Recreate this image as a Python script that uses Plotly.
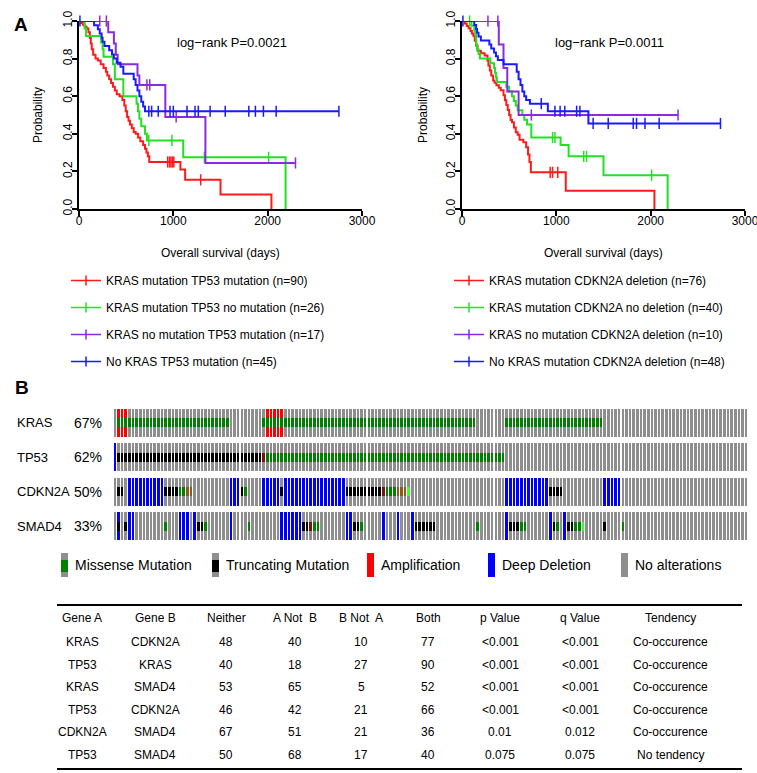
import numpy as np
import plotly.graph_objects as go

W, H = 757, 773
def px(x): return x / W
def py(y): return 1 - y / H

FONT = "Arial, Liberation Sans, sans-serif"
TFONT = "Arial, Liberation Sans, sans-serif"

# ---------------- Kaplan-Meier data ----------------
KM_COLORS = ["#ff1a1a", "#22e022", "#8a2be2", "#1a1aff"]

# Panel 1: KRAS / TP53
tp53_names = ["KRAS mutation TP53 mutation (n=90)", "KRAS mutation TP53 no mutation (n=26)",
              "KRAS no mutation TP53 mutation (n=17)", "No KRAS TP53 mutation (n=45)"]
tp53_red_t = [20, 40, 60, 80, 100, 115, 125, 135, 150, 175, 200, 230, 260, 285, 300, 320, 340, 360, 380, 400,
              430, 460, 480, 495, 510, 525, 540, 560, 580, 600, 625, 650, 680, 700, 715, 730, 745, 1075, 1125, 1500, 2040]
tp53_red_s = [0.99, 0.98, 0.97, 0.96, 0.94, 0.91, 0.88, 0.85, 0.82, 0.80, 0.79, 0.77, 0.75, 0.73, 0.71, 0.69, 0.67,
              0.65, 0.63, 0.61, 0.60, 0.58, 0.55, 0.52, 0.49, 0.47, 0.45, 0.43, 0.41, 0.40, 0.38, 0.36, 0.34, 0.32,
              0.30, 0.28, 0.25, 0.21, 0.155, 0.077, 0.0]
tp53_red_c = [940, 960, 975, 990, 1005, 1290]
tp53_green_t = [60, 75, 235, 250, 260, 360, 380, 470, 610, 625, 640, 660, 700, 720, 1105, 2190]
tp53_green_s = [0.96, 0.92, 0.885, 0.85, 0.81, 0.77, 0.69, 0.60, 0.56, 0.52, 0.48, 0.44, 0.40, 0.365, 0.275, 0.0]
tp53_green_c = [740, 985, 1330, 2010]
tp53_purple_t = [310, 370, 390, 410, 620, 640, 915, 1340]
tp53_purple_s = [0.94, 0.88, 0.82, 0.77, 0.71, 0.66, 0.49, 0.245]
tp53_purple_c = [220, 290, 720, 750, 1030, 2295]
tp53_blue_t = [160, 200, 220, 240, 250, 270, 320, 350, 370, 400, 440, 470, 580, 600, 620, 640, 660, 680, 700]
tp53_blue_s = [0.978, 0.956, 0.933, 0.911, 0.889, 0.867, 0.844, 0.822, 0.80, 0.778, 0.756, 0.72, 0.69, 0.66,
               0.63, 0.60, 0.57, 0.545, 0.52]
tp53_blue_c = [10, 740, 770, 840, 965, 1000, 1145, 1230, 1265, 1390, 1550, 1800, 1870, 1955, 2090, 2755]

# Panel 2: KRAS / CDKN2A
cdkn_names = ["KRAS mutation CDKN2A deletion (n=76)", "KRAS mutation CDKN2A no deletion (n=40)",
              "KRAS no mutation CDKN2A deletion (n=10)", "No KRAS mutation CDKN2A deletion (n=48)"]
cdkn_red_t = [30, 50, 70, 90, 105, 120, 135, 150, 165, 200, 240, 270, 280, 295, 310, 330, 345, 365, 390, 410, 440,
              455, 470, 485, 500, 515, 530, 550, 570, 590, 610, 650, 680, 700, 715, 730, 1100, 2040]
cdkn_red_s = [0.987, 0.974, 0.961, 0.947, 0.934, 0.921, 0.895, 0.868, 0.842, 0.829, 0.816, 0.79, 0.763, 0.737,
              0.71, 0.684, 0.671, 0.658, 0.645, 0.632, 0.605, 0.579, 0.553, 0.526, 0.50, 0.474, 0.461, 0.434,
              0.408, 0.395, 0.368, 0.355, 0.329, 0.29, 0.25, 0.195, 0.097, 0.0]
cdkn_red_c = [935, 960, 1015]
cdkn_green_t = [100, 130, 140, 150, 160, 175, 190, 300, 340, 350, 360, 370, 470, 500, 530, 550, 570, 590, 640,
                660, 690, 735, 1045, 1130, 1500, 2180]
cdkn_green_s = [0.975, 0.95, 0.925, 0.875, 0.85, 0.825, 0.80, 0.775, 0.75, 0.725, 0.70, 0.675, 0.65, 0.625, 0.60,
                0.575, 0.55, 0.525, 0.50, 0.475, 0.45, 0.38, 0.34, 0.28, 0.18, 0.0]
cdkn_green_c = [80, 960, 985, 1290, 1320, 2010]
cdkn_purple_t = [390, 440, 480, 600]
cdkn_purple_s = [0.875, 0.75, 0.625, 0.50]
cdkn_purple_c = [275, 380, 735, 2290]
cdkn_blue_t = [130, 150, 160, 175, 200, 290, 310, 340, 360, 380, 440, 580, 600, 620, 640, 660, 680, 720, 910, 1340]
cdkn_blue_s = [0.979, 0.958, 0.938, 0.917, 0.896, 0.875, 0.854, 0.833, 0.813, 0.792, 0.77, 0.73, 0.69, 0.66,
               0.625, 0.60, 0.58, 0.56, 0.52, 0.455]
cdkn_blue_c = [10, 840, 985, 1040, 1090, 1215, 1250, 1390, 1550, 1815, 1850, 1940, 2090, 2740]

pvals = ["log\u2212rank P=0.0021", "log\u2212rank P=0.0011"]

# ---------------- Oncoprint data ----------------
N_SAMPLES = 175
genes = ["KRAS", "TP53", "CDKN2A", "SMAD4"]
kras_mut = [(1, 31, "missense"), (41, 99, "missense"), (108, 134, "missense")]
kras_cna = [(1, 3, "amp"), (42, 46, "amp")]
tp53_mut = [(1, 40, "truncating"), (41, 41, "other"), (42, 107, "missense")]
tp53_cna = [(0, 0, "del")]
cdkn2a_mut = [(1, 2, "truncating"), (14, 17, "truncating"), (18, 19, "missense"), (20, 21, "inframe"),
              (35, 35, "truncating"), (36, 36, "missense"), (46, 46, "truncating"), (64, 73, "truncating"),
              (74, 74, "other"), (75, 77, "missense"), (78, 80, "inframe"), (81, 81, "missense2"),
              (120, 123, "truncating")]
cdkn2a_cna = [(4, 13, "del"), (32, 34, "del"), (41, 45, "del"), (47, 63, "del"), (108, 119, "del"),
              (135, 139, "del")]
smad4_mut = [(1, 1, "truncating"), (3, 3, "truncating"), (14, 14, "missense"), (23, 24, "truncating"),
             (25, 25, "missense"), (37, 37, "missense"), (52, 53, "truncating"), (54, 54, "other"),
             (55, 56, "missense"), (66, 67, "truncating"), (68, 68, "missense"), (83, 88, "truncating"),
             (100, 100, "missense"), (109, 111, "truncating"), (112, 113, "missense"), (121, 121, "truncating"),
             (122, 122, "missense"), (125, 126, "truncating"), (127, 128, "missense"), (129, 129, "missense2"),
             (135, 135, "truncating"), (140, 140, "missense")]
smad4_cna = [(1, 1, "del"), (4, 5, "del"), (18, 20, "del"), (22, 22, "del"), (32, 32, "del"), (46, 51, "del"),
             (64, 65, "del"), (74, 74, "del"), (78, 78, "del"), (82, 82, "del"), (108, 108, "del"),
             (120, 120, "del"), (124, 124, "del")]
gene_mut = [kras_mut, tp53_mut, cdkn2a_mut, smad4_mut]
gene_cna = [kras_cna, tp53_cna, cdkn2a_cna, smad4_cna]

ALT_COLORS = {"missense": "#008000", "truncating": "#000000", "inframe": "#8b5a1e", "other": "#7a1010",
              "missense2": "#33ff33", "amp": "#ff0000", "del": "#0000ff", "none": "#8e8e8e"}
onco_legend = [("missense", "Missense Mutation"), ("truncating", "Truncating Mutation"),
               ("amp", "Amplification"), ("del", "Deep Deletion"), ("none", "No alterations")]

# ---------------- Table data ----------------
tbl_header = ["Gene A", "Gene B", "Neither", "A Not\u00a0 B", "B Not\u00a0 A", "Both", "p Value", "q Value", "Tendency"]
gene_a = ["KRAS", "TP53", "KRAS", "TP53", "CDKN2A", "TP53"]
gene_b = ["CDKN2A", "KRAS", "SMAD4", "CDKN2A", "SMAD4", "SMAD4"]
neither = [48, 40, 53, 46, 67, 50]
a_not_b = [40, 18, 65, 42, 51, 68]
b_not_a = [10, 27, 5, 21, 21, 17]
both = [77, 90, 52, 66, 36, 40]
p_value = ["<0.001", "<0.001", "<0.001", "<0.001", "0.01", "0.075"]
q_value = ["<0.001", "<0.001", "<0.001", "<0.001", "0.012", "0.075"]
tendency = ["Co-occurence"] * 5 + ["No tendency"]

# ---------------- Build figure ----------------
fig = go.Figure()

panels = [
    ("x", "y", "legend", tp53_names, [(tp53_red_t, tp53_red_s, tp53_red_c), (tp53_green_t, tp53_green_s, tp53_green_c),
                                     (tp53_purple_t, tp53_purple_s, tp53_purple_c), (tp53_blue_t, tp53_blue_s, tp53_blue_c)]),
    ("x2", "y2", "legend2", cdkn_names, [(cdkn_red_t, cdkn_red_s, cdkn_red_c), (cdkn_green_t, cdkn_green_s, cdkn_green_c),
                                        (cdkn_purple_t, cdkn_purple_s, cdkn_purple_c), (cdkn_blue_t, cdkn_blue_s, cdkn_blue_c)]),
]

def surv_at(t, times, surv):
    i = np.searchsorted(times, t, side="right")
    return 1.0 if i == 0 else surv[i - 1]

for xa, ya, leg, names, curves in panels:
    for k, (times, surv, cens) in enumerate(curves):
        col = KM_COLORS[k]
        end = max([times[-1]] + cens)
        xs = [0] + list(times)
        ys = [1.0] + list(surv)
        if xs[-1] < end:
            xs.append(end)
            ys.append(surv[-1])
        fig.add_trace(go.Scatter(x=xs, y=ys, mode="lines", line=dict(color=col, width=2, shape="hv"),
                                 xaxis=xa, yaxis=ya, showlegend=False, cliponaxis=False, hoverinfo="skip"))
        fig.add_trace(go.Scatter(x=cens, y=[surv_at(c, times, surv) for c in cens], mode="markers",
                                 marker=dict(symbol="line-ns-open", size=8, color=col, line=dict(color=col, width=1.5)),
                                 xaxis=xa, yaxis=ya, showlegend=False, cliponaxis=False, hoverinfo="skip"))
        fig.add_trace(go.Scatter(x=[None], y=[None], mode="lines+markers", name=names[k],
                                 line=dict(color=col, width=1.5),
                                 marker=dict(symbol="line-ns-open", size=7, color=col, line=dict(color=col, width=1.5)),
                                 xaxis=xa, yaxis=ya, legend=leg, legendgroup=f"{leg}{k}", showlegend=True))

# Oncoprint
bg_x, bg_base, bg_col = [], [], []
mu_x, mu_base, mu_col = [], [], []
pct = []
for r, g in enumerate(genes):
    cna = ["none"] * N_SAMPLES
    mut = [None] * N_SAMPLES
    for a, b, t in gene_cna[r]:
        for s in range(a, b + 1):
            cna[s] = t
    for a, b, t in gene_mut[r]:
        for s in range(a, b + 1):
            mut[s] = t
    altered = sum(1 for s in range(N_SAMPLES) if cna[s] != "none" or mut[s] is not None)
    pct.append(f"{round(100 * altered / N_SAMPLES)}%")
    for s in range(N_SAMPLES):
        bg_x.append(s); bg_base.append(-r - 0.4); bg_col.append(ALT_COLORS[cna[s]])
        if mut[s] is not None:
            mu_x.append(s); mu_base.append(-r - 0.13); mu_col.append(ALT_COLORS[mut[s]])

fig.add_trace(go.Bar(x=bg_x, y=[0.8] * len(bg_x), base=bg_base, width=0.72, marker=dict(color=bg_col, line=dict(width=0)),
                     xaxis="x3", yaxis="y3", showlegend=False, hoverinfo="skip"))
fig.add_trace(go.Bar(x=mu_x, y=[0.26] * len(mu_x), base=mu_base, width=0.72, marker=dict(color=mu_col, line=dict(width=0)),
                     xaxis="x3", yaxis="y3", showlegend=False, hoverinfo="skip"))

ann = []
shapes = []

def label(text, x, y, size=12, family=FONT, xanchor="center", yanchor="middle", yref="paper", **kw):
    ann.append(dict(text=text, x=x, y=y, xref="paper", yref=yref, xanchor=xanchor, yanchor=yanchor,
                    showarrow=False, font=dict(family=family, size=size, color="black"), **kw))

for r, g in enumerate(genes):
    label(g, px(15), -r, size=13, xanchor="left", yref="y3")
    label(pct[r], px(104), -r, size=14, xanchor="right", yref="y3")

# oncoprint legend
leg_icon_x = [61, 212, 367, 488, 621]
for (key, text), ix in zip(onco_legend, leg_icon_x):
    if key in ("missense", "truncating"):
        shapes.append(dict(type="rect", xref="paper", yref="paper", x0=px(ix), x1=px(ix + 7), y0=py(577), y1=py(553),
                           fillcolor=ALT_COLORS["none"], line=dict(width=0)))
        shapes.append(dict(type="rect", xref="paper", yref="paper", x0=px(ix), x1=px(ix + 7), y0=py(572), y1=py(560),
                           fillcolor=ALT_COLORS[key], line=dict(width=0)))
    else:
        shapes.append(dict(type="rect", xref="paper", yref="paper", x0=px(ix), x1=px(ix + 7), y0=py(577), y1=py(553),
                           fillcolor=ALT_COLORS[key], line=dict(width=0)))
    label(text, px(ix + 12), py(565), size=14, xanchor="left")

# KM annotations
for cx, ttl_x, p in [(232, 220, pvals[0]), (609, 603, pvals[1])]:
    label(p, px(cx), py(42), size=13)
    label("Overall survival (days)", px(ttl_x), py(253), size=12)
for yx in [38, 423]:
    label("Probability", px(yx), py(115), size=12, textangle=-90)
label("<b>A</b>", px(21), py(25), size=19)
label("<b>B</b>", px(22), py(387), size=19)

# Table
col_x = [82, 155, 226, 295, 361, 428, 500, 580, 670]
row_y0, row_dy = 642, 22.6
for j, h in enumerate(tbl_header):
    label(h, px(col_x[j]), py(618), size=12, family=TFONT)
for i in range(len(gene_a)):
    vals = [gene_a[i], gene_b[i], neither[i], a_not_b[i], b_not_a[i], both[i], p_value[i], q_value[i], tendency[i]]
    for j, v in enumerate(vals):
        label(str(v).replace("<", "&lt;"), px(col_x[j]), py(row_y0 + i * row_dy), size=12, family=TFONT)
for yy, lw in [(605, 2), (769, 2)]:
    shapes.append(dict(type="line", xref="paper", yref="paper", x0=px(57), x1=px(742), y0=py(yy), y1=py(yy),
                       line=dict(color="black", width=lw)))

axis_common = dict(showline=True, linewidth=1.8, linecolor="black", ticks="outside", ticklen=5, tickwidth=1.8,
                   tickcolor="black", showgrid=False, zeroline=False, automargin=False, ticklabeloverflow="allow",
                   tickfont=dict(family=FONT, size=12, color="black"))
xk = dict(axis_common, range=[0, 3000], tickvals=[0, 1000, 2000, 3000], ticklabelstandoff=-5)
yk = dict(axis_common, range=[0, 1], tickvals=[0, 0.2, 0.4, 0.6, 0.8, 1.0],
          ticktext=["0.0", "0.2", "0.4", "0.6", "0.8", "1.0"], tickangle=-90, ticklabelstandoff=-5)

legend_common = dict(xanchor="left", yanchor="top", font=dict(family=FONT, size=12, color="black"),
                     tracegroupgap=8, traceorder="grouped", bgcolor="rgba(0,0,0,0)", itemwidth=30)

fig.update_layout(
    template="none",
    width=W, height=H, margin=dict(l=0, r=0, t=0, b=0, autoexpand=False), paper_bgcolor="white", plot_bgcolor="white",
    barmode="overlay", bargap=0,
    xaxis=dict(xk, domain=[px(79), px(362)], anchor="y"),
    yaxis=dict(yk, domain=[py(209), py(21)], anchor="x"),
    xaxis2=dict(xk, domain=[px(462), px(745)], anchor="y2"),
    yaxis2=dict(yk, domain=[py(209), py(21)], anchor="x2"),
    xaxis3=dict(domain=[px(113), px(748)], anchor="y3", range=[-0.5, N_SAMPLES - 0.5], visible=False, automargin=False),
    yaxis3=dict(domain=[py(540), py(409)], anchor="x3", range=[-3.4, 0.4], visible=False, automargin=False),
    legend=dict(legend_common, x=px(66), y=py(266)),
    legend2=dict(legend_common, x=px(449), y=py(266)),
    annotations=ann, shapes=shapes,
)

fig.write_html("out.html", config={"displayModeBar": False},
               post_script="document.body.style.margin='0px';document.body.style.padding='0px';")
